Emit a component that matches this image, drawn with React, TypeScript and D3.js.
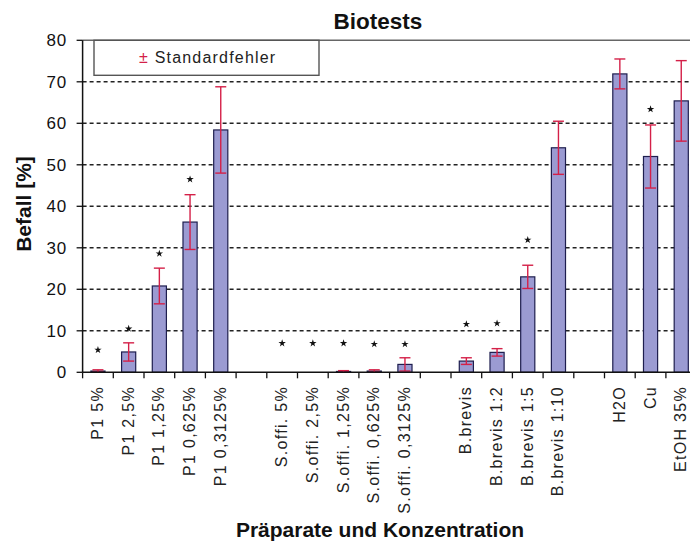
import React from "react";
import * as d3 from "d3";

const categories: string[] = [
  "P1 5%", "P1 2,5%", "P1 1,25%", "P1 0,625%", "P1 0,3125%", "",
  "S.offi. 5%", "S.offi. 2,5%", "S.offi. 1,25%", "S.offi. 0,625%", "S.offi. 0,3125%", "",
  "B.brevis", "B.brevis 1:2", "B.brevis 1:5", "B.brevis 1:10", "",
  "H2O", "Cu", "EtOH 35%",
];
const values: (number | null)[] = [
  0.3, 4.9, 20.8, 36.2, 58.4, null,
  0, 0, 0.2, 0.3, 1.9, null,
  2.7, 4.8, 23.0, 54.1, null,
  71.9, 52.0, 65.4,
];
const errors: (number | null)[] = [
  0.3, 2.2, 4.3, 6.6, 10.4, null,
  0, 0, 0.2, 0.3, 1.6, null,
  0.8, 0.9, 2.8, 6.4, null,
  3.6, 7.6, 9.7,
];
const starHeights: (number | null)[] = [
  5.4, 10.5, 28.6, 46.5, null, null,
  7.0, 7.0, 7.0, 6.8, 6.8, null,
  11.6, 11.8, 31.9, null, null,
  null, 63.4, null,
];
const yTicks: number[] = [0, 10, 20, 30, 40, 50, 60, 70, 80];

const FONT = "'Liberation Sans', Arial, sans-serif";
const W = 690;
const H = 542;
const plotLeft = 82.6;
const plotRight = 696.6;
const plotTop = 40.3;
const plotBottom = 372.3;

export default function App() {
  const x = d3
    .scaleBand<number>()
    .domain(categories.map((_, i) => i))
    .range([plotLeft, plotRight])
    .paddingInner(0.54)
    .paddingOuter(0.27);
  const y = d3.scaleLinear().domain([0, 80]).range([plotBottom, plotTop]);
  const step = x.step();
  const bw = x.bandwidth();
  const star = d3.symbol().type(d3.symbolStar).size(17)() as string;
  const cap = 5.5;

  const boundaries = d3.range(categories.length + 1).map((k) => plotLeft + k * step);

  return (
    <div>
      <style>{"body{margin:0}"}</style>
      <svg width={W} height={H} style={{ display: "block", background: "#fff" }}>
        {yTicks.filter((t) => t > 0 && t < 80).map((t) => (
          <line key={"g" + t} x1={plotLeft} x2={W} y1={y(t)} y2={y(t)} stroke="#222" strokeWidth={1.4} strokeDasharray="4,3" />
        ))}
        <line x1={plotLeft} x2={W} y1={y(80)} y2={y(80)} stroke="#666" strokeWidth={1.5} />
        <rect x={94} y={y(80)} width={225} height={35} fill="#fff" stroke="#555" strokeWidth={1.4} />
        <text x={139} y={63} fontFamily={FONT} fontSize={16} letterSpacing={1.2}>
          <tspan fill="#d42048">±</tspan>
          <tspan fill="#222"> Standardfehler</tspan>
        </text>
        {categories.map((c, i) => {
          const v = values[i];
          if (v === null || v <= 0) return null;
          return (
            <rect key={"b" + i} x={x(i)!} y={y(v)} width={bw} height={y(0) - y(v)} fill="#9b9bd2" stroke="#1e1e4e" strokeWidth={1.2} />
          );
        })}
        {categories.map((c, i) => {
          const v = values[i];
          const e = errors[i];
          if (v === null || e === null || e <= 0) return null;
          const cx = x(i)! + bw / 2;
          const lo = Math.max(0, v - e);
          const hi = v + e;
          return (
            <g key={"e" + i} stroke="#d42048" strokeWidth={1.4}>
              <line x1={cx} x2={cx} y1={y(lo)} y2={y(hi)} />
              <line x1={cx - cap} x2={cx + cap} y1={y(hi)} y2={y(hi)} />
              <line x1={cx - cap} x2={cx + cap} y1={y(lo)} y2={y(lo)} />
            </g>
          );
        })}
        {categories.map((c, i) => {
          const s = starHeights[i];
          if (s === null) return null;
          const cx = x(i)! + bw / 2;
          return <path key={"s" + i} d={star} transform={`translate(${cx},${y(s)})`} fill="#111" />;
        })}
        <line x1={plotLeft} x2={plotLeft} y1={y(80)} y2={y(0)} stroke="#111" strokeWidth={1.5} />
        <line x1={plotLeft} x2={W} y1={y(0)} y2={y(0)} stroke="#111" strokeWidth={1.5} />
        {yTicks.map((t) => (
          <g key={"yt" + t}>
            <line x1={plotLeft - 6} x2={plotLeft} y1={y(t)} y2={y(t)} stroke="#111" strokeWidth={1.3} />
            <text x={67} y={y(t)} dy="0.36em" textAnchor="end" fontFamily={FONT} fontSize={17} letterSpacing={0.8} fill="#111">
              {t}
            </text>
          </g>
        ))}
        {boundaries.map((bx, k) => (
          <line key={"xt" + k} x1={bx} x2={bx} y1={y(0)} y2={y(0) + 6} stroke="#111" strokeWidth={1.3} />
        ))}
        {categories.map((c, i) =>
          c ? (
            <text
              key={"xl" + i}
              transform={`translate(${x(i)! + bw / 2 + 5},${386}) rotate(-90)`}
              textAnchor="end"
              fontFamily={FONT}
              fontSize={16}
              letterSpacing={1.3}
              fill="#222"
            >
              {c}
            </text>
          ) : null
        )}
        <text x={378} y={29} textAnchor="middle" fontFamily={FONT} fontSize={22.5} fontWeight="bold" fill="#111">
          Biotests
        </text>
        <text transform={`translate(31,204) rotate(-90)`} textAnchor="middle" fontFamily={FONT} fontSize={21} fontWeight="bold" fill="#111">
          Befall [%]
        </text>
        <text x={380} y={537} textAnchor="middle" fontFamily={FONT} fontSize={21} fontWeight="bold" fill="#111">
          Präparate und Konzentration
        </text>
      </svg>
    </div>
  );
}
